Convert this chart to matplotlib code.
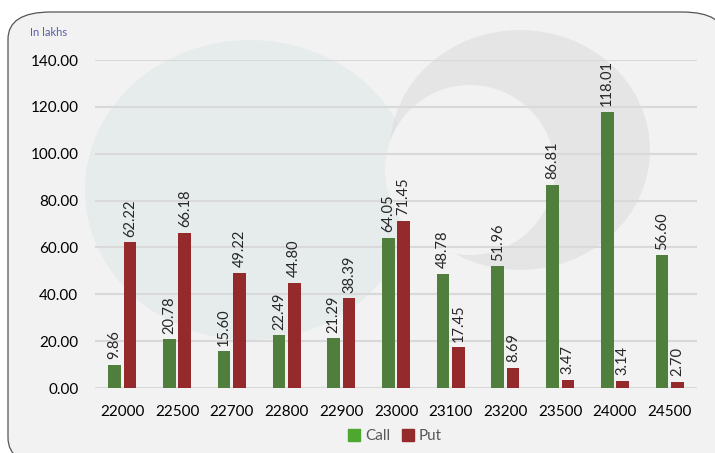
import matplotlib.pyplot as plt
import numpy as np
from matplotlib.patches import FancyBboxPatch, Ellipse, Patch

plt.rcParams['font.family'] = ['Lato', 'DejaVu Sans']

strikes = ['22000', '22500', '22700', '22800', '22900', '23000', '23100', '23200', '23500', '24000', '24500']
call = [9.86, 20.78, 15.60, 22.49, 21.29, 64.05, 48.78, 51.96, 86.81, 118.01, 56.60]
put = [62.22, 66.18, 49.22, 44.80, 38.39, 71.45, 17.45, 8.69, 3.47, 3.14, 2.70]

call_col = '#507e3c'
put_col = '#952a2c'

fig = plt.figure(figsize=(7.15, 4.53), dpi=100)
fig.patch.set_facecolor('white')

# rounded chart frame
frame = FancyBboxPatch((8/715, 1-465/453), (725-8)/715, (465-12)/453,
                       boxstyle='round,pad=0,rounding_size=0.06',
                       transform=fig.transFigure, facecolor='#f2f2f2',
                       edgecolor='#555555', linewidth=0.9, zorder=0)
fig.patches.append(frame)

# faint watermark shapes
wm = fig.add_axes([0, 0, 1, 1], zorder=0.5)
wm.set_xlim(0, 715)
wm.set_ylim(453, 0)
wm.axis('off')
blob = Ellipse((250, 190), 330, 300, facecolor='#dde6e7', edgecolor='none', alpha=0.55)
wm.add_patch(blob)
blob.set_clip_path(frame)
arc = Ellipse((520, 150), 260, 240, facecolor='#dadada', edgecolor='none', alpha=0.5)
wm.add_patch(arc)
arc.set_clip_path(frame)
hole = Ellipse((470, 170), 170, 170, facecolor='#f2f2f2', edgecolor='none')
wm.add_patch(hole)
hole.set_clip_path(frame)

ax = fig.add_axes([95/715, 1-388/453, (697-95)/715, (388-60)/453], zorder=1)
ax.patch.set_alpha(0)

x = np.arange(len(strikes))
w = 0.23
off = 0.14
b1 = ax.bar(x - off, call, w, color=call_col, zorder=3)
b2 = ax.bar(x + off, put, w, color=put_col, zorder=3)

for bars, vals in [(b1, call), (b2, put)]:
    for b, v in zip(bars, vals):
        ax.annotate('%.2f' % v, (b.get_x() + b.get_width()/2, v),
                    xytext=(0, 4), textcoords='offset points',
                    rotation=90, ha='center', va='bottom',
                    fontsize=10.5, color='#262626')

ax.set_xlim(-0.5, len(strikes) - 0.5)
ax.set_ylim(0, 140)
ax.set_yticks(np.arange(0, 141, 20))
ax.set_yticklabels(['%.2f' % t for t in np.arange(0, 141, 20)])
ax.set_xticks(x)
ax.set_xticklabels(strikes)
ax.tick_params(axis='y', length=0, pad=12, labelsize=11, labelcolor='black')
ax.tick_params(axis='x', length=0, pad=12, labelsize=11, labelcolor='black')
ax.grid(axis='y', color='#d9d9d9', linewidth=1.5, zorder=0)
for s in ax.spines.values():
    s.set_visible(False)

fig.text(30/715, 1-33/453, 'In lakhs', color='#5b5ea6', fontsize=8, va='center')

handles = [Patch(color='#4ea72e', label='Call'), Patch(color=put_col, label='Put')]
fig.legend(handles=handles, loc='center', bbox_to_anchor=(395/715, 1-436/453),
           ncol=2, frameon=False, fontsize=11, handlelength=0.8, handleheight=0.8,
           handletextpad=0.3, columnspacing=0.8, labelcolor='#595959')

fig.savefig('out.png', dpi=100, facecolor='white')
